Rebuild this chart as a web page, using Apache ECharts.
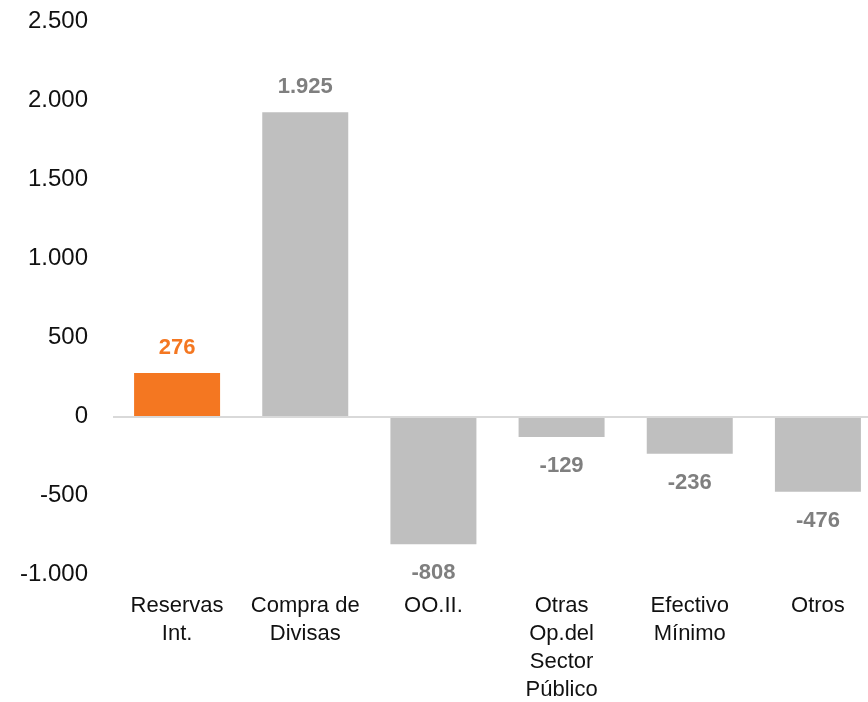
<!DOCTYPE html>
<html><head><meta charset="utf-8">
<script src="https://cdn.jsdelivr.net/npm/echarts@6/dist/echarts.min.js"></script>
<style>html,body{margin:0;padding:0;background:#fff;}#c{width:868px;height:702px;}</style>
</head><body><div id="c"></div>
<script>
var categories = ["Reservas\nInt.", "Compra de\nDivisas", "OO.II.", "Otras\nOp.del\nSector\nPúblico", "Efectivo\nMínimo", "Otros"];
var values = [276, 1925, -808, -129, -236, -476];
var barColors = ["#F47721", "#BFBFBF", "#BFBFBF", "#BFBFBF", "#BFBFBF", "#BFBFBF"];
var labelColors = ["#F47721", "#7F7F7F", "#7F7F7F", "#7F7F7F", "#7F7F7F", "#7F7F7F"];
var yMin = -1000, yMax = 2500, yStep = 500;

function fmt(v){
  var s = Math.abs(v).toString().replace(/\B(?=(\d{3})+(?!\d))/g, ".");
  return (v < 0 ? "-" : "") + s;
}
var font = "'Liberation Sans', Arial, sans-serif";
var chart = echarts.init(document.getElementById('c'));
chart.setOption({
  animation: false,
  grid: {left: 113, top: 21.5, width: 769, height: 553, containLabel: false, outerBoundsMode: 'none'},
  xAxis: {
    type: 'category', data: categories,
    axisLine: {show: false}, axisTick: {show: false},
    axisLabel: {color: '#111', fontFamily: font, fontSize: 22, lineHeight: 28, margin: 17, interval: 0}
  },
  yAxis: {
    type: 'value', min: yMin, max: yMax, interval: yStep,
    axisLine: {show: false}, axisTick: {show: false}, splitLine: {show: false},
    axisLabel: {color: '#111', fontFamily: font, fontSize: 24, margin: 25, formatter: fmt}
  },
  series: [{
    type: 'bar', barWidth: 86,
    data: values.map(function(v, i){
      return {
        value: v,
        itemStyle: {color: barColors[i]},
        label: {show: true, position: v >= 0 ? 'top' : 'bottom', distance: v >= 0 ? 14 : 18,
          color: labelColors[i], fontFamily: font, fontWeight: 'bold', fontSize: 22,
          formatter: function(p){ return fmt(p.value); }}
      };
    }),
    markLine: {
      silent: true, symbol: 'none', label: {show: false},
      lineStyle: {color: '#D9D9D9', width: 2, type: 'solid'},
      data: [{yAxis: 0}]
    }
  }]
});
</script></body></html>
